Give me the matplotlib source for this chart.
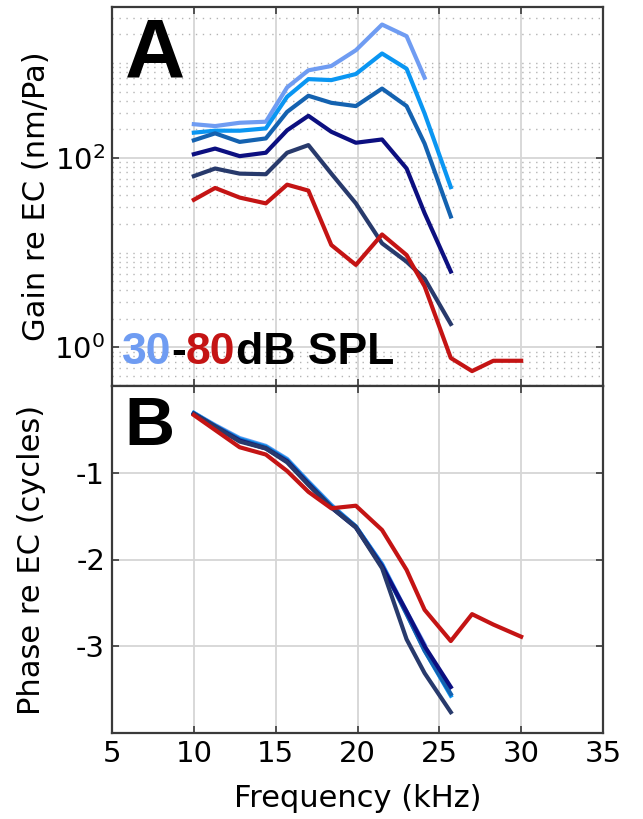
import numpy as np
import matplotlib
matplotlib.use("Agg")
import matplotlib.pyplot as plt
from matplotlib.ticker import LogLocator, FixedLocator, NullFormatter, LogFormatterSciNotation

plt.rcParams["axes.unicode_minus"] = False

# ---------------- data ----------------
freqs = [10.0, 11.3, 12.8, 14.4, 15.7, 17.0, 18.4, 19.9, 21.5, 23.0, 24.1, 25.7, 27.0, 28.3, 30.0]
levels = [30, 40, 50, 60, 70, 80]

gain_30 = [226, 216, 234, 240, 553, 837, 930, 1364, 2546, 1918, 700]
gain_40 = [184, 193, 193, 204, 440, 676, 660, 765, 1260, 870, 293, 49]
gain_50 = [153, 181, 147, 160, 305, 451, 380, 351, 537, 351, 141, 24]
gain_60 = [109, 125, 104, 113, 195, 277, 188, 144, 156, 77, 26, 6.3]
gain_70 = [64, 77, 68, 67, 113, 136, 68, 33, 12.5, 8.0, 5.3, 1.76]
gain_80 = [36, 48, 38, 33, 52, 45, 12, 7.4, 15.5, 9.4, 4.4, 0.77, 0.56, 0.72, 0.72]

phase_30 = [-0.31, -0.45, -0.60, -0.69, -0.84, -1.10, -1.37, -1.62, -2.05, -2.60, -2.98]
phase_40 = [-0.31, -0.46, -0.61, -0.70, -0.85, -1.11, -1.38, -1.62, -2.06, -2.62, -3.05, -3.57]
phase_50 = [-0.32, -0.46, -0.62, -0.71, -0.86, -1.12, -1.39, -1.62, -2.07, -2.63, -3.05, -3.55]
phase_60 = [-0.32, -0.47, -0.63, -0.72, -0.87, -1.13, -1.40, -1.63, -2.08, -2.60, -3.00, -3.47]
phase_70 = [-0.32, -0.47, -0.64, -0.72, -0.88, -1.14, -1.40, -1.63, -2.10, -2.92, -3.31, -3.76]
phase_80 = [-0.335, -0.507, -0.706, -0.79, -0.98, -1.22, -1.41, -1.38, -1.66, -2.12, -2.58, -2.94, -2.63, -2.75, -2.89]

gains = [gain_30, gain_40, gain_50, gain_60, gain_70, gain_80]
phases = [phase_30, phase_40, phase_50, phase_60, phase_70, phase_80]
colors = ["#6f9cf2", "#0a96f2", "#1462b0", "#0c0f80", "#283a6c", "#c41414"]

x_ticks = [5, 10, 15, 20, 25, 30, 35]
phase_ticks = [-1, -2, -3]

# ---------------- figure ----------------
W, H = 643, 819
fig = plt.figure(figsize=(W / 100, H / 100), dpi=100)
L, R = 112 / W, 603 / W
axA = fig.add_axes([L, 1 - 386 / H, R - L, (386 - 7) / H])
axB = fig.add_axes([L, 1 - 733 / H, R - L, (733 - 386) / H])

frame_col = "#3a3a3a"
for ax in (axA, axB):
    for s in ax.spines.values():
        s.set_color(frame_col)
        s.set_linewidth(1.6)
    ax.set_xlim(5, 35)
    ax.xaxis.set_major_locator(FixedLocator(x_ticks))
    ax.tick_params(which="both", direction="in", top=True, right=True,
                   length=5, width=1.2, color=frame_col, labelsize=21, pad=5)
    ax.tick_params(which="minor", length=0)
    ax.grid(True, which="major", color="#d6d6d6", linewidth=1.3, linestyle="-")
    ax.set_axisbelow(True)

# Panel A
for f_, g, c in zip([freqs] * 6, gains, colors):
    axA.plot(f_[:len(g)], g, color=c, linewidth=3.0, solid_joinstyle="round", zorder=3)
axA.set_yscale("log")
axA.set_ylim(0.39, 3900)
axA.yaxis.set_major_locator(FixedLocator([1, 100]))
axA.yaxis.set_major_formatter(LogFormatterSciNotation())
axA.yaxis.set_minor_locator(LogLocator(base=10, subs=np.arange(1, 10), numticks=50))
axA.yaxis.set_minor_formatter(NullFormatter())
axA.grid(True, which="minor", axis="y", color="#b4b4b4", linewidth=1.0, linestyle=(0, (1, 4)))
axA.tick_params(axis="x", labelbottom=False)
axA.set_ylabel("Gain re EC (nm/Pa)", fontsize=22)
axA.yaxis.set_label_coords(-0.125, 0.5)

axA.text(0.026, 0.975, "A", transform=axA.transAxes, fontsize=60, fontweight="bold",
         family="Liberation Sans", va="top", ha="left")

# rainbow text "30-80dB SPL"
t1 = axA.text(0.02, 0.035, "30", transform=axA.transAxes, fontsize=32, fontweight="bold",
              family="Liberation Sans", color=colors[0], va="bottom", ha="left")
t2 = axA.annotate("-", xy=(1, 0), xycoords=t1, va="bottom", ha="left", fontsize=32,
                  fontweight="bold", family="Liberation Sans", color="black")
t3 = axA.annotate("80", xy=(1, 0), xycoords=t2, va="bottom", ha="left", fontsize=32,
                  fontweight="bold", family="Liberation Sans", color=colors[5])
t4 = axA.annotate("dB SPL", xy=(1, 0), xycoords=t3, va="bottom", ha="left", fontsize=32,
                  fontweight="bold", family="Liberation Sans", color="black")

# Panel B
for f_, p, c in zip([freqs] * 6, phases, colors):
    axB.plot(f_[:len(p)], p, color=c, linewidth=3.0, solid_joinstyle="round", zorder=3)
axB.set_ylim(-4, 0)
axB.yaxis.set_major_locator(FixedLocator(phase_ticks))
axB.set_ylabel("Phase re EC (cycles)", fontsize=22)
axB.yaxis.set_label_coords(-0.135, 0.5)
axB.set_xlabel("Frequency (kHz)", fontsize=22)
axB.xaxis.set_label_coords(0.5, -0.148)
axB.text(0.026, 0.975, "B", transform=axB.transAxes, fontsize=50, fontweight="bold",
         family="Liberation Sans", va="top", ha="left")

fig.savefig("out.png", dpi=100)
